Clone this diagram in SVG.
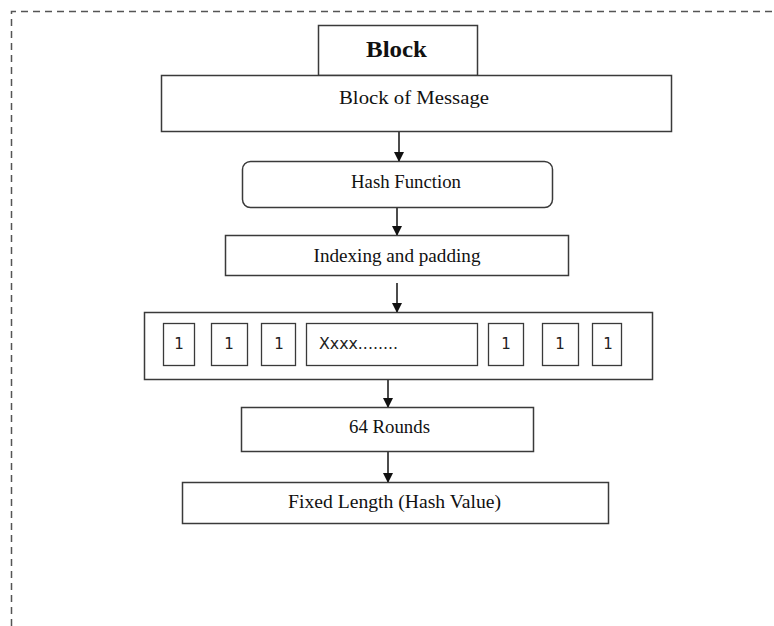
<svg xmlns="http://www.w3.org/2000/svg" width="774" height="626" viewBox="0 0 774 626">
<style>
.box{fill:#fff;stroke:#3a3a3a;stroke-width:1.5}
.cell{fill:#fff;stroke:#3a3a3a;stroke-width:1.3}
.t{font-family:"Liberation Serif","Times New Roman",serif;font-size:18px;fill:#111;text-anchor:middle}
.s{font-family:"DejaVu Sans","Liberation Sans",sans-serif;font-size:15px;fill:#222;text-anchor:middle}
.c{stroke:#111;stroke-width:1.5;fill:none}
.border{stroke:#555;stroke-width:1.5;fill:none;stroke-dasharray:7 5}
</style>
<defs>
<marker id="ah" markerWidth="10" markerHeight="10" refX="9" refY="5" orient="auto" markerUnits="userSpaceOnUse">
<path d="M0,0 L10,5 L0,10 Z" fill="#111"/>
</marker>
</defs>
<rect width="774" height="626" fill="#fff"/>
<path class="border" d="M11.5,626 L11.5,11.5 L774,11.5"/>
<g id="connectors">
<line class="c" x1="399" y1="132" x2="399" y2="161" marker-end="url(#ah)"/>
<line class="c" x1="397" y1="207" x2="397" y2="235" marker-end="url(#ah)"/>
<line class="c" x1="397" y1="283" x2="397" y2="312" marker-end="url(#ah)"/>
<line class="c" x1="388" y1="380" x2="388" y2="407" marker-end="url(#ah)"/>
<line class="c" x1="388" y1="451" x2="388" y2="482" marker-end="url(#ah)"/>
</g>
<g id="block">
<rect class="box" x="318.5" y="25.5" width="159" height="50"/>
<text class="t" x="396.5" y="57" style="font-weight:bold;font-size:23px" textLength="61" lengthAdjust="spacingAndGlyphs">Block</text>
</g>
<g id="block-of-message">
<rect class="box" x="161.5" y="75.5" width="510" height="56"/>
<text class="t" x="414" y="104" textLength="150" lengthAdjust="spacingAndGlyphs">Block  of Message</text>
</g>
<g id="hash-function">
<rect class="box" x="242.5" y="161.5" width="310" height="46" rx="8"/>
<text class="t" x="406" y="188" textLength="110" lengthAdjust="spacingAndGlyphs">Hash Function</text>
</g>
<g id="indexing">
<rect class="box" x="225.5" y="235.5" width="343" height="40"/>
<text class="t" x="397" y="262" textLength="167" lengthAdjust="spacingAndGlyphs">Indexing  and padding</text>
</g>
<g id="blocks">
<rect class="box" x="144.5" y="312.5" width="508" height="67"/>
<rect class="cell" x="163.5" y="323.5" width="31" height="42"/>
<text class="s" x="179" y="349">1</text>
<rect class="cell" x="211.5" y="323.5" width="36" height="42"/>
<text class="s" x="229" y="349">1</text>
<rect class="cell" x="261.5" y="323.5" width="34" height="42"/>
<text class="s" x="279" y="349">1</text>
<rect class="cell" x="306.5" y="323.5" width="171" height="42"/>
<text class="s" x="319" y="349" style="text-anchor:start" textLength="79" lengthAdjust="spacingAndGlyphs">Xxxx........</text>
<rect class="cell" x="488.5" y="323.5" width="35" height="42"/>
<text class="s" x="506" y="349">1</text>
<rect class="cell" x="542.5" y="323.5" width="36" height="42"/>
<text class="s" x="560" y="349">1</text>
<rect class="cell" x="592.5" y="323.5" width="29" height="42"/>
<text class="s" x="608" y="349">1</text>
</g>
<g id="rounds">
<rect class="box" x="241.5" y="407.5" width="292" height="44"/>
<text class="t" x="389.5" y="433" textLength="81" lengthAdjust="spacingAndGlyphs">64 Rounds</text>
</g>
<g id="fixed-length">
<rect class="box" x="182.5" y="482.5" width="426" height="41"/>
<text class="t" x="394.5" y="508" textLength="213" lengthAdjust="spacingAndGlyphs">Fixed Length (Hash Value)</text>
</g>
</svg>
